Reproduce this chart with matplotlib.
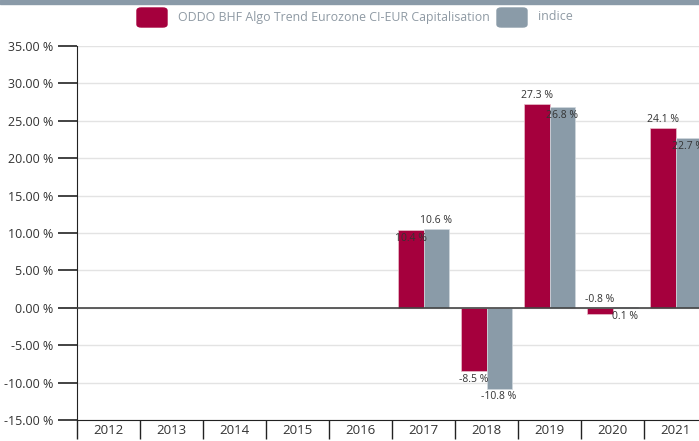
import numpy as np
import matplotlib.pyplot as plt
from matplotlib.patches import FancyBboxPatch

years = ["2012", "2013", "2014", "2015", "2016", "2017", "2018", "2019", "2020", "2021"]
fund = [None, None, None, None, None, 10.4, -8.5, 27.3, -0.8, 24.1]
indice = [None, None, None, None, None, 10.6, -10.8, 26.8, 0.1, 22.7]
fund_name = "ODDO BHF Algo Trend Eurozone CI-EUR Capitalisation"
index_name = "indice"
yticks = [-15, -10, -5, 0, 5, 10, 15, 20, 25, 30, 35]

# where each value label goes: +1 above the bar end, -1 below it
fund_pos = [0, 0, 0, 0, 0, -1, -1, 1, 1, 1]
indice_pos = [0, 0, 0, 0, 0, 1, -1, -1, -1, -1]

RED = "#a5003d"
GREY = "#8a9ba8"
TXT = "#333333"

plt.rcParams['font.family'] = ['Open Sans', 'DejaVu Sans']

fig = plt.figure(figsize=(6.99, 4.41), dpi=100)
ax = fig.add_axes([77 / 699, 21 / 441, 630 / 699, 374 / 441])

x = np.arange(len(years))
w = 0.4
for i in range(len(years)):
    if fund[i] is not None:
        ax.bar(x[i] - w / 2, fund[i], w, color=RED, edgecolor="#e8c0cc", linewidth=0.5, zorder=3)
        off = 2 if fund_pos[i] > 0 else -2
        yv = fund[i] if abs(fund[i]) > 1 else 0
        ax.annotate(f"{fund[i]} %", (x[i] - w / 2, yv),
                    xytext=(0, off), textcoords="offset points", ha="center",
                    va="bottom" if fund_pos[i] > 0 else "top", fontsize=7.5, color=TXT, zorder=5)
    if indice[i] is not None:
        ax.bar(x[i] + w / 2, indice[i], w, color=GREY, edgecolor="#d0d8de", linewidth=0.5, zorder=3)
        off = 2 if indice_pos[i] > 0 else -2
        yv = indice[i] if abs(indice[i]) > 1 else 0
        ax.annotate(f"{indice[i]} %", (x[i] + w / 2, yv),
                    xytext=(0, off), textcoords="offset points", ha="center",
                    va="bottom" if indice_pos[i] > 0 else "top", fontsize=7.5, color=TXT, zorder=5)

ax.axhline(0, color="#444444", linewidth=1.2, zorder=4)
ax.set_xlim(-0.5, len(years) - 0.5)
ax.set_ylim(-15, 35)
ax.set_yticks(yticks)
ax.set_yticklabels([f"{v:.2f} %" for v in yticks], fontsize=9, color=TXT)
ax.yaxis.grid(True, color="#e3e3e3", linewidth=1, zorder=0)
ax.set_axisbelow(True)

ax.set_xticks(x)
ax.set_xticklabels(years, fontsize=9.5, color=TXT)
ax.set_xticks(np.arange(len(years)) - 0.5, minor=True)
ax.tick_params(axis="x", which="major", length=0, pad=3)
ax.tick_params(axis="x", which="minor", length=14, width=1, color="#222222", direction="out")
ax.tick_params(axis="y", length=14, width=1.2, color="#222222", pad=3)

for s in ["top", "right"]:
    ax.spines[s].set_visible(False)
ax.spines["left"].set_color("#222222")
ax.spines["bottom"].set_color("#222222")

# top band
fig.patches.append(plt.Rectangle((0, 1 - 4 / 441), 1, 4 / 441, transform=fig.transFigure,
                                 color="#8a9aa8", zorder=0))

# legend
ly = 1 - 17 / 441
for px, col, label in [(137, RED, fund_name), (497, GREY, index_name)]:
    fig.patches.append(FancyBboxPatch((px / 699, 1 - 27 / 441), 30 / 699, 19 / 441,
                                      boxstyle="round,pad=0,rounding_size=0.006",
                                      transform=fig.transFigure, color=col))
    fig.text((px + 41) / 699, ly, label, fontsize=8.9, color="#8f9aa4", va="center", ha="left")

fig.savefig("out.png", dpi=100)
